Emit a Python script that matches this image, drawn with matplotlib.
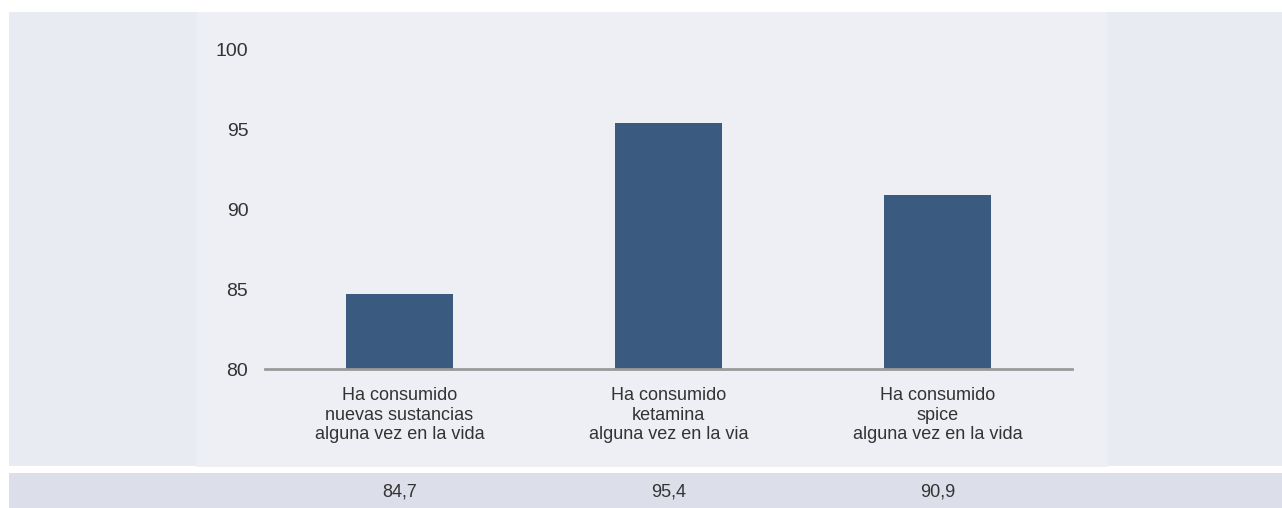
import matplotlib.pyplot as plt
from matplotlib.patches import Rectangle
from matplotlib.transforms import blended_transform_factory

plt.rcParams['font.family'] = ['Liberation Sans', 'DejaVu Sans']

categorias = ['Ha consumido\nnuevas sustancias\nalguna vez en la vida',
              'Ha consumido\nketamina\nalguna vez en la via',
              'Ha consumido\nspice\nalguna vez en la vida']
valores = [84.7, 95.4, 90.9]
etiquetas = ['84,7', '95,4', '90,9']
yticks = [80, 85, 90, 95, 100]

W, H = 1282, 508
fig = plt.figure(figsize=(W / 100, H / 100), dpi=100)
fig.patch.set_facecolor('white')


def px_rect(x0, y0, x1, y1, color):
    # pixel box (top-left origin) -> figure fraction
    fig.patches.append(Rectangle((x0 / W, 1 - y1 / H), (x1 - x0) / W, (y1 - y0) / H,
                                 transform=fig.transFigure, facecolor=color,
                                 edgecolor='none', zorder=-10))


px_rect(9, 12, W, 466, '#e9ebf3')
px_rect(197, 12, 1107, 467, '#eeeff4')
px_rect(9, 473, W, H, '#dcdeea')

ax = fig.add_axes([265 / W, 139 / H, (1072 - 265) / W, (459 - 139) / H])
ax.set_facecolor('none')

x = list(range(len(categorias)))
ax.bar(x, valores, width=0.4, color='#3b5a80', zorder=2)
ax.set_ylim(80, 100)
ax.set_xlim(-0.5, 2.5)
ax.set_yticks(yticks)
ax.set_yticklabels([str(t) for t in yticks])
ax.set_xticks(x)
ax.set_xticklabels(categorias, linespacing=1.2)

for s in ['top', 'right', 'left']:
    ax.spines[s].set_visible(False)
ax.spines['bottom'].set_color('#9a9a9a')
ax.spines['bottom'].set_linewidth(2)
ax.spines['bottom'].set_zorder(3)
ax.tick_params(axis='both', length=0, colors='#333333')
ax.tick_params(axis='y', pad=12, labelsize=14)
ax.tick_params(axis='x', pad=13, labelsize=13)

tr = blended_transform_factory(ax.transData, fig.transFigure)
for xi, lab in zip(x, etiquetas):
    fig.text(xi, 1 - 492 / H, lab, transform=tr, ha='center', va='center',
             fontsize=13, color='#333333')

fig.savefig('out.png', dpi=100)
